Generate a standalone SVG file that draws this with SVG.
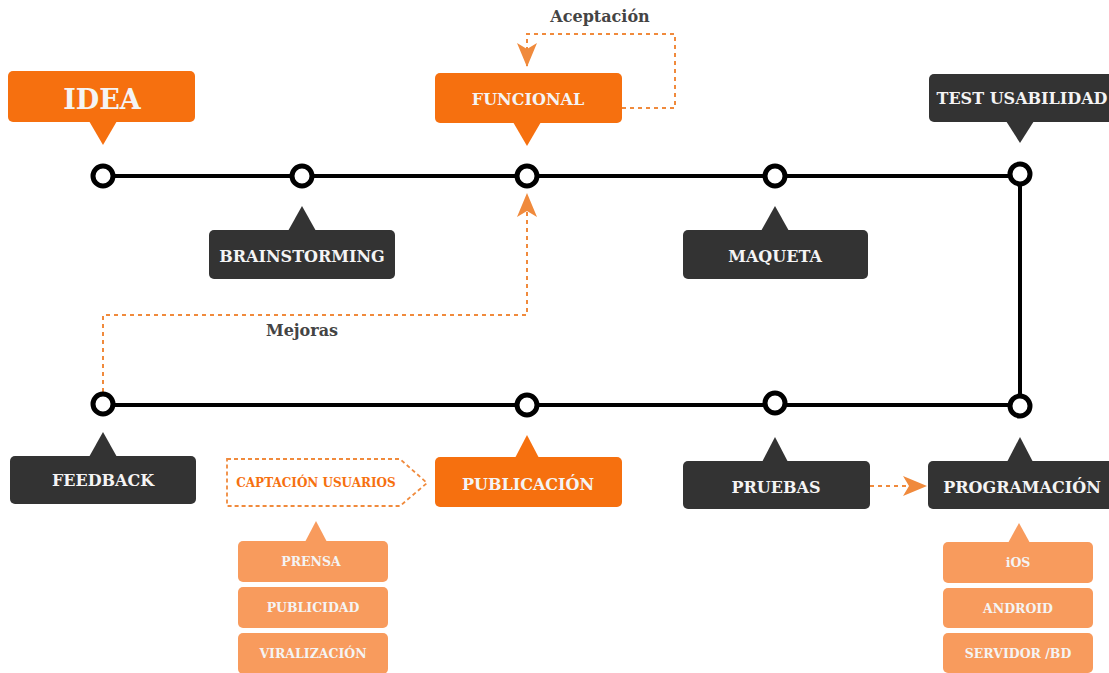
<svg xmlns="http://www.w3.org/2000/svg" width="1109" height="673" viewBox="0 0 1109 673">
<defs>
<style>
.orange{fill:#F6700F}
.dark{fill:#333333}
.light{fill:#F89B5D}
.lbl{font-family:"DejaVu Serif","Liberation Serif",serif;font-weight:bold;fill:#F4F4F4;text-anchor:middle}
.note{font-family:"DejaVu Serif","Liberation Serif",serif;font-weight:bold;fill:#444444;text-anchor:middle;font-size:16px}
.line{stroke:#000;stroke-width:4;fill:none}
.dot{fill:#fff;stroke:#000;stroke-width:5}
.dash{stroke:#F08A3C;stroke-width:2;fill:none;stroke-dasharray:4 4}
</style>
<marker id="arrB" viewBox="0 0 24 24" refX="23" refY="12" markerWidth="24" markerHeight="24" markerUnits="userSpaceOnUse" orient="auto">
<path d="M0,2 L24,12 L0,22 L6,12 z" fill="#F08A3C"/>
</marker>
</defs>
<rect width="1109" height="673" fill="#fff"/>

<g id="connectors">
<line class="line" x1="103" y1="176" x2="1020" y2="176"/>
<line class="line" x1="103" y1="405" x2="1020" y2="405"/>
<line class="line" x1="1020" y1="176" x2="1020" y2="405"/>
<path class="dash" d="M622,108 H675 V34 H527 V66" marker-end="url(#arrB)"/>
<path class="dash" d="M103,392 V315 H527 V194" marker-end="url(#arrB)"/>
<path class="dash" d="M870,486 H926" marker-end="url(#arrB)"/>
<text class="note" x="600" y="22">Aceptación</text>
<text class="note" x="302" y="336">Mejoras</text>
</g>

<g id="dots">
<circle class="dot" cx="103" cy="176" r="10"/>
<circle class="dot" cx="302" cy="176" r="10"/>
<circle class="dot" cx="527" cy="176" r="10"/>
<circle class="dot" cx="775" cy="176" r="10"/>
<circle class="dot" cx="1020" cy="174" r="10"/>
<circle class="dot" cx="103" cy="404" r="10"/>
<circle class="dot" cx="527" cy="405" r="10"/>
<circle class="dot" cx="775" cy="403" r="10"/>
<circle class="dot" cx="1020" cy="406" r="10"/>
</g>

<g id="idea">
<rect class="orange" x="8" y="71" width="187" height="51" rx="5"/>
<polygon class="orange" points="89,121 117,121 103,145"/>
<text class="lbl" x="102" y="109" font-size="27">IDEA</text>
</g>

<g id="funcional">
<rect class="orange" x="435" y="73" width="187" height="50" rx="5"/>
<polygon class="orange" points="513,122 541,122 527,146"/>
<text class="lbl" x="528" y="105" font-size="16">FUNCIONAL</text>
</g>

<g id="test">
<rect class="dark" x="929" y="74" width="190" height="48" rx="5"/>
<polygon class="dark" points="1006,121 1034,121 1020,143"/>
<text class="lbl" x="1022" y="104" font-size="16">TEST USABILIDAD</text>
</g>

<g id="brainstorming">
<rect class="dark" x="209" y="230" width="186" height="49" rx="5"/>
<polygon class="dark" points="288,231 316,231 302,206"/>
<text class="lbl" x="302" y="262" font-size="16">BRAINSTORMING</text>
</g>

<g id="maqueta">
<rect class="dark" x="683" y="230" width="185" height="49" rx="5"/>
<polygon class="dark" points="761,231 789,231 775,206"/>
<text class="lbl" x="775" y="262" font-size="16">MAQUETA</text>
</g>

<g id="feedback">
<rect class="dark" x="10" y="456" width="186" height="48" rx="5"/>
<polygon class="dark" points="89,457 117,457 103,432"/>
<text class="lbl" x="103" y="486" font-size="16">FEEDBACK</text>
</g>

<g id="captacion">
<path d="M227,459 H400 L427,483 L400,506 H227 Z" fill="none" stroke="#F08A3C" stroke-width="1.8" stroke-dasharray="4 3"/>
<text x="316" y="487" font-family="'DejaVu Serif','Liberation Serif',serif" font-weight="bold" font-size="12" fill="#F6700F" text-anchor="middle">CAPTACIÓN USUARIOS</text>
</g>

<g id="publicacion">
<rect class="orange" x="435" y="457" width="187" height="50" rx="5"/>
<polygon class="orange" points="515,458 539,458 527,435"/>
<text class="lbl" x="528" y="490" font-size="16">PUBLICACIÓN</text>
</g>

<g id="pruebas">
<rect class="dark" x="683" y="461" width="187" height="48" rx="5"/>
<polygon class="dark" points="762,462 788,462 775,437"/>
<text class="lbl" x="776" y="493" font-size="16">PRUEBAS</text>
</g>

<g id="programacion">
<rect class="dark" x="928" y="461" width="190" height="48" rx="5"/>
<polygon class="dark" points="1007,462 1033,462 1020,437"/>
<text class="lbl" x="1022" y="493" font-size="16">PROGRAMACIÓN</text>
</g>

<g id="prensa">
<polygon class="light" points="305,542 327,542 316,521"/>
<rect class="light" x="238" y="541" width="150" height="41" rx="5"/>
<text class="lbl" x="311" y="566" font-size="12.5">PRENSA</text>
</g>
<g id="publicidad">
<rect class="light" x="238" y="587" width="150" height="41" rx="5"/>
<text class="lbl" x="313" y="612" font-size="12.5">PUBLICIDAD</text>
</g>
<g id="viralizacion">
<rect class="light" x="238" y="633" width="150" height="41" rx="5"/>
<text class="lbl" x="313" y="658" font-size="12.5">VIRALIZACIÓN</text>
</g>

<g id="ios">
<polygon class="light" points="1008,543 1030,543 1019,523"/>
<rect class="light" x="943" y="542" width="150" height="41" rx="5"/>
<text class="lbl" x="1018" y="567" font-size="12.5">iOS</text>
</g>
<g id="android">
<rect class="light" x="943" y="588" width="150" height="40" rx="5"/>
<text class="lbl" x="1018" y="613" font-size="12.5">ANDROID</text>
</g>
<g id="servidor">
<rect class="light" x="943" y="633" width="150" height="40" rx="5"/>
<text class="lbl" x="1018" y="658" font-size="12.5">SERVIDOR /BD</text>
</g>
</svg>
